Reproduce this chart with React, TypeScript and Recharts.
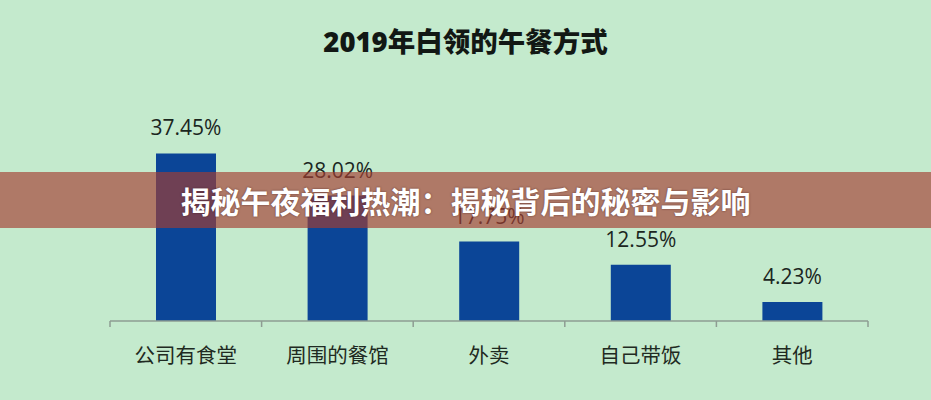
import React from 'react';
import { BarChart, Bar, XAxis, YAxis, LabelList } from 'recharts';

const categories = ['公司有食堂', '周围的餐馆', '外卖', '自己带饭', '其他'];
const shares = [37.45, 28.02, 17.75, 12.55, 4.23];
const yDomain = [0, 40];
const titleText = '2019年白领的午餐方式';
const bannerText = '揭秘午夜福利热潮：揭秘背后的秘密与影响';

const data = categories.map((name, i) => ({ name, value: shares[i] }));

const W = 931;
const H = 400;
const M = { top: 142, right: 63, left: 110, bottom: 0 };
const halfBand = (W - M.left - M.right) / categories.length / 2;
const FONT = "'Open Sans', 'Noto Sans CJK SC', sans-serif";

const CatTick = (props: any) => {
  const { x, y, payload, index } = props;
  const last = index === categories.length - 1;
  return (
    <g>
      <line x1={x - halfBand} x2={x - halfBand} y1={y} y2={y + 6} stroke="#8e9c92" strokeWidth={1.5} />
      {last && <line x1={x + halfBand} x2={x + halfBand} y1={y} y2={y + 6} stroke="#8e9c92" strokeWidth={1.5} />}
      <text x={x} y={y + 34} textAnchor="middle" dominantBaseline="central" fontSize={20.5} fill="#1f2a22" fontFamily={FONT}>
        {payload.value}
      </text>
    </g>
  );
};

export default function App() {
  return (
    <div style={{ position: 'absolute', left: 0, top: 0, width: W, height: H, background: '#c4eacd', overflow: 'hidden' }}>
      <div style={{ position: 'absolute', left: 0, top: 23, width: W, textAlign: 'center', fontFamily: FONT, fontWeight: 900, fontSize: 27.5, lineHeight: '38px', color: '#121814' }}>
        {titleText}
      </div>
      <BarChart width={W} height={H} data={data} margin={M}>
        <YAxis hide domain={yDomain} />
        <XAxis
          dataKey="name"
          height={79}
          axisLine={{ stroke: '#8e9c92', strokeWidth: 1.5 }}
          tickLine={false}
          tickSize={0}
          tickMargin={0}
          tick={<CatTick />}
          interval={0}
        />
        <Bar dataKey="value" fill="#0b4597" barSize={60} isAnimationActive={false}>
          <LabelList
            dataKey="value"
            position="top"
            offset={18}
            formatter={(v: any) => `${Number(v).toFixed(2)}%`}
            style={{ fontSize: 21, fill: '#1b261e', fontFamily: FONT }}
          />
        </Bar>
      </BarChart>
      <div
        style={{
          position: 'absolute',
          left: 0,
          top: 172,
          width: W,
          height: 56,
          background: 'rgba(164, 62, 50, 0.66)',
          display: 'flex',
          alignItems: 'center',
          justifyContent: 'center',
          fontFamily: FONT,
          fontWeight: 700,
          fontSize: 30,
          color: '#ffffff',
          textShadow: '0 0 2px rgba(60,20,20,0.7)',
        }}
      >
        {bannerText}
      </div>
    </div>
  );
}
